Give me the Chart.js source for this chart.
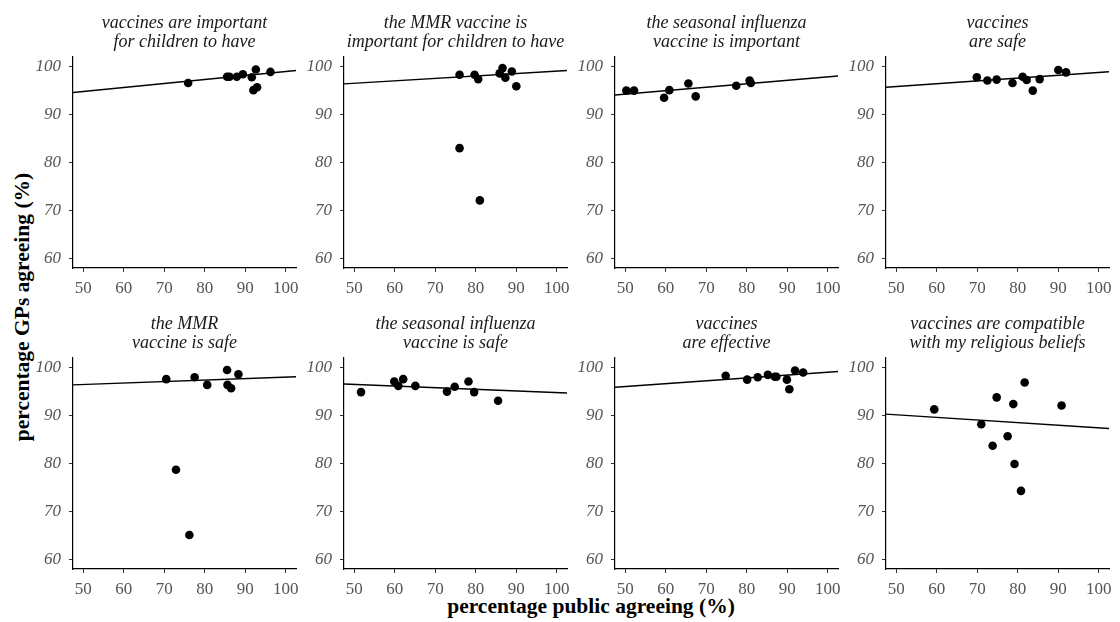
<!DOCTYPE html>
<html>
<head>
<meta charset="utf-8">
<script src="https://cdn.jsdelivr.net/npm/chart.js@4.4.1/dist/chart.umd.min.js"></script>
<style>
    body {
        margin: 0;
        background: #fff;
        width: 1120px;
        height: 622px;
        position: relative;
        overflow: hidden;
        font-family: "Liberation Serif", serif;
    }
    .panel {
        position: absolute;
    }
    .y-title {
        position: absolute;
        left: 22px;
        top: 307px;
        transform: translate(-50%, -50%) rotate(-90deg);
        font-weight: bold;
        font-size: 21.5px;
        white-space: nowrap;
        color: #000;
    }
    .x-title {
        position: absolute;
        left: 591px;
        top: 606px;
        transform: translate(-50%, -50%);
        font-weight: bold;
        font-size: 21.5px;
        white-space: nowrap;
        color: #000;
    }
</style>
</head>
<body>

<div class="y-title">percentage GPs agreeing (%)</div>
<div class="x-title">percentage public agreeing (%)</div>

<script>
// facet titles (two lines each)
const panelTitles = [
    ['vaccines are important', 'for children to have'],
    ['the MMR vaccine is', 'important for children to have'],
    ['the seasonal influenza', 'vaccine is important'],
    ['vaccines', 'are safe'],
    ['the MMR', 'vaccine is safe'],
    ['the seasonal influenza', 'vaccine is safe'],
    ['vaccines', 'are effective'],
    ['vaccines are compatible', 'with my religious beliefs']
];

// percentage of public agreeing, per facet
const publicPct = [
    [75.9, 85.5, 86.1, 87.9, 89.4, 91.6, 92.6, 92.0, 92.9, 96.2],
    [76.0, 79.7, 80.6, 85.9, 86.6, 87.3, 88.9, 90.0, 76.0, 81.0],
    [50.3, 52.2, 59.6, 60.9, 65.6, 67.4, 77.4, 80.7, 81.0],
    [69.9, 72.5, 74.8, 78.7, 81.2, 82.2, 83.7, 85.4, 90.0, 91.9],
    [70.5, 77.5, 80.6, 85.5, 85.6, 86.5, 88.3, 72.9, 76.2],
    [51.7, 59.9, 60.9, 62.1, 65.1, 72.9, 74.8, 78.2, 79.6, 85.5],
    [74.8, 80.1, 82.7, 85.2, 86.9, 87.3, 89.9, 90.5, 91.9, 93.9],
    [59.4, 71.0, 73.8, 74.8, 77.5, 78.9, 79.2, 80.8, 81.7, 90.8]
];

// percentage of GPs agreeing, per facet
const gpPct = [
    [96.6, 97.9, 97.9, 97.9, 98.4, 97.8, 99.4, 95.1, 95.7, 98.9],
    [98.3, 98.3, 97.4, 98.6, 99.7, 97.7, 99.0, 95.9, 83.0, 72.1],
    [95.0, 95.0, 93.5, 95.1, 96.5, 93.8, 96.0, 97.1, 96.6],
    [97.8, 97.1, 97.3, 96.6, 97.9, 97.2, 95.0, 97.4, 99.3, 98.8],
    [97.6, 98.0, 96.4, 99.5, 96.4, 95.7, 98.6, 78.7, 65.1],
    [94.9, 97.1, 96.2, 97.6, 96.2, 95.0, 96.0, 97.1, 94.9, 93.1],
    [98.3, 97.5, 98.0, 98.5, 98.1, 98.1, 97.5, 95.5, 99.4, 99.0],
    [91.3, 88.2, 83.7, 93.8, 85.7, 92.4, 79.9, 74.3, 96.9, 92.1]
];

// fitted line read at the left and right edge of each panel
const fitStart = [94.6, 96.4, 94.1, 95.7, 96.4, 96.6, 95.9, 90.3];
const fitEnd = [99.2, 99.2, 98.05, 98.95, 98.1, 94.7, 99.2, 87.3];

const xRange = [47.5, 102.5];
const yRange = [58, 102];
const xTicks = [50, 60, 70, 80, 90, 100];
const yTicks = [60, 70, 80, 90, 100];

// panel plot-area placement
const colLefts = [73, 344, 615, 886];
const rowTops = [57, 358];
const areaW = 223;
const areaH = 211;
const axisW = 50;
const axisH = 35;
const titleH = 57;
const padRight = 20;

const serif = '"Liberation Serif", serif';

function makePanel(i) {
    const col = i % 4;
    const row = Math.floor(i / 4);

    const canvas = document.createElement('canvas');
    canvas.className = 'panel';
    canvas.width = axisW + areaW + padRight;
    canvas.height = titleH + areaH + axisH;
    canvas.style.left = (colLefts[col] - axisW) + 'px';
    canvas.style.top = (rowTops[row] - titleH) + 'px';
    document.body.appendChild(canvas);

    const points = publicPct[i].map((x, k) => ({ x: x, y: gpPct[i][k] }));

    new Chart(canvas.getContext('2d'), {
        type: 'scatter',
        data: {
            datasets: [
                {
                    data: points,
                    backgroundColor: '#000',
                    borderWidth: 0,
                    pointRadius: 4.3
                },
                {
                    data: [
                        { x: xRange[0], y: fitStart[i] },
                        { x: xRange[1], y: fitEnd[i] }
                    ],
                    showLine: true,
                    borderColor: '#000',
                    borderWidth: 1.4,
                    pointRadius: 0
                }
            ]
        },
        options: {
            responsive: false,
            animation: false,
            layout: { padding: { left: 0, right: padRight, top: 0, bottom: 0 } },
            plugins: {
                legend: { display: false },
                tooltip: { enabled: false },
                title: {
                    display: true,
                    fullSize: false,
                    text: panelTitles[i],
                    color: '#1a1a1a',
                    font: { family: serif, size: 18, style: 'italic', weight: 'normal', lineHeight: 1.06 },
                    padding: { top: 13.5, bottom: 5.4 }
                }
            },
            scales: {
                x: {
                    type: 'linear',
                    min: xRange[0],
                    max: xRange[1],
                    afterBuildTicks: s => { s.ticks = xTicks.map(v => ({ value: v })); },
                    afterFit: s => { s.height = axisH; },
                    border: { display: true, color: '#000', width: 1.2 },
                    grid: { display: true, drawOnChartArea: false, drawTicks: true, tickLength: 4, color: '#333' },
                    ticks: {
                        color: '#555',
                        padding: 6,
                        maxRotation: 0,
                        font: { family: serif, size: 17 }
                    }
                },
                y: {
                    type: 'linear',
                    min: yRange[0],
                    max: yRange[1],
                    afterBuildTicks: s => { s.ticks = yTicks.map(v => ({ value: v })); },
                    afterFit: s => { s.width = axisW; },
                    border: { display: true, color: '#000', width: 1.2 },
                    grid: { display: true, drawOnChartArea: false, drawTicks: true, tickLength: 4, color: '#333' },
                    ticks: {
                        color: '#555',
                        padding: 8,
                        font: { family: serif, size: 17, style: 'italic' }
                    }
                }
            }
        }
    });
}

document.addEventListener('DOMContentLoaded', function() {
    for (let i = 0; i < panelTitles.length; i++) {
        makePanel(i);
    }
});
</script>
</body>
</html>
